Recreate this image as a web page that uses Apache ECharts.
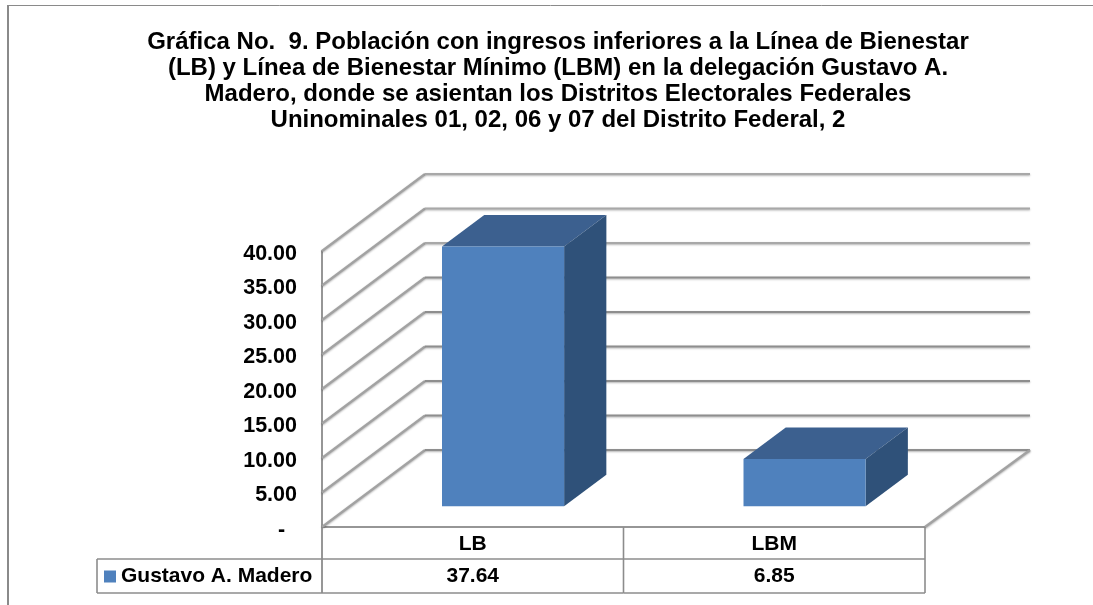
<!DOCTYPE html>
<html>
<head>
<meta charset="utf-8">
<style>
  html, body { margin: 0; padding: 0; background: #fff; }
  #chart { width: 1093px; height: 605px; }
</style>
</head>
<body>
<div id="chart"></div>
<script src="https://cdn.jsdelivr.net/npm/echarts@6/dist/echarts.min.js"></script>
<script>
var categories = ['LB', 'LBM']
var values = [37.64, 6.85]
var seriesName = 'Gustavo A. Madero'
var yTicks = [0, 5, 10, 15, 20, 25, 30, 35, 40]
var yTickLabels = ['-  ', '5.00', '10.00', '15.00', '20.00', '25.00', '30.00', '35.00', '40.00']
var titleLines = [
  'Gráfica No.  9. Población con ingresos inferiores a la Línea de Bienestar',
  '(LB) y Línea de Bienestar Mínimo (LBM) en la delegación Gustavo A.',
  'Madero, donde se asientan los Distritos Electorales Federales',
  'Uninominales 01, 02, 06 y 07 del Distrito Federal, 2'
]

var FONT = '"Liberation Sans", Arial, sans-serif'
var GREY = '#969696'
// fake 3d: how far the back wall sits from the front plane
var DEPTH_X = 103
var DEPTH_Y = 77
var BAR_FRONT = 0.27
var BAR_BACK = 0.68
var BAR_WIDTH = 0.405
var ROW_1 = 32
var ROW_2 = 66

function line (x1, y1, x2, y2, color, width, soft) {
  var style = { stroke: color, lineWidth: width }
  if (soft) {
    style.shadowColor = 'rgba(0,0,0,0.3)'
    style.shadowBlur = 2
    style.shadowOffsetY = 1
  }
  return {
    type: 'line',
    shape: { x1: x1, y1: y1, x2: x2, y2: y2 },
    style: style
  }
}

function poly (points, color) {
  return { type: 'polygon', shape: { points: points }, style: { fill: color } }
}

// gridline on the side wall + back wall, one per tick, with its tick label
function renderWall (params, api) {
  var c = params.coordSys
  var y = api.coord([0, api.value(0)])[1]
  var bx = c.x + DEPTH_X
  var by = y - DEPTH_Y
  var children = [
    line(c.x, y, bx, by, '#a2a2a2', 2.2, true),
    line(bx, by, c.x + c.width + DEPTH_X + 2, by, api.value(0) >= 30 ? '#a8a8a8' : '#8e8e8e', 2.2, true),
    {
      type: 'text',
      x: c.x - 25,
      y: y + 3,
      style: {
        text: yTickLabels[params.dataIndex],
        fill: '#000',
        font: 'bold 21.5px ' + FONT,
        textAlign: 'right',
        textVerticalAlign: 'middle'
      }
    }
  ]
  if (api.value(0) === 0) {
    children.push(line(c.x + c.width, y, c.x + c.width + DEPTH_X + 2, by, '#a2a2a2', 2.4, true))
  }
  return { type: 'group', children: children }
}

function renderBar (params, api) {
  var w = api.size([1, 0])[0] * BAR_WIDTH
  var base = api.coord([api.value(0), 0])
  var top = api.coord([api.value(0), api.value(1)])
  var fx = DEPTH_X * BAR_FRONT
  var fy = DEPTH_Y * BAR_FRONT
  var bx = DEPTH_X * (BAR_BACK - BAR_FRONT)
  var by = DEPTH_Y * (BAR_BACK - BAR_FRONT)
  var x0 = base[0] + fx - w / 2 + 2.5
  var x1 = x0 + w
  var y0 = base[1] - fy
  var y1 = top[1] - fy
  return {
    type: 'group',
    children: [
      poly([[x0, y1], [x1, y1], [x1 + bx, y1 - by], [x0 + bx, y1 - by]], '#3c608f'),
      poly([[x1, y0], [x1 + bx, y0 - by], [x1 + bx, y1 - by], [x1, y1]], '#2f5179'),
      poly([[x0, y0], [x1, y0], [x1, y1], [x0, y1]], '#4f81bd')
    ]
  }
}

// data table under the axis, one column per category
function renderTable (params, api) {
  var c = params.coordSys
  var idx = api.value(0)
  var band = api.size([1, 0])[0]
  var cx = api.coord([idx, 0])[0]
  var y0 = api.coord([idx, 0])[1]
  var right = cx + band / 2
  var children = [
    line(right, y0, right, y0 + ROW_2, '#8c8c8c', 1.6),
    line(cx - band / 2, y0 + ROW_1, right, y0 + ROW_1, '#8c8c8c', 1.6),
    line(cx - band / 2, y0 + ROW_2, right, y0 + ROW_2, '#8c8c8c', 1.6),
    {
      type: 'text',
      x: cx,
      y: y0 + 49,
      style: {
        text: api.value(1).toFixed(2),
        fill: '#000',
        font: 'bold 21px ' + FONT,
        textAlign: 'center',
        textVerticalAlign: 'middle'
      }
    }
  ]
  if (idx === 0) {
    // first column also closes the row-header cell
    children.push(line(c.x, y0, c.x, y0 + ROW_2, '#8c8c8c', 1.8))
    children.push(line(97, y0 + ROW_1, c.x, y0 + ROW_1, '#8c8c8c', 1.6))
    children.push(line(97, y0 + ROW_2, c.x, y0 + ROW_2, '#8c8c8c', 1.6))
    children.push(line(97, y0 + ROW_1, 97, y0 + ROW_2, '#8c8c8c', 1.6))
  }
  return { type: 'group', children: children }
}

var chart = echarts.init(document.getElementById('chart'))
chart.setOption({
  animation: false,
  backgroundColor: '#fff',
  title: {
    text: titleLines.join('\n'),
    left: 553,
    top: 24,
    textAlign: 'center',
    textStyle: {
      fontFamily: FONT,
      fontSize: 24,
      fontWeight: 'bold',
      lineHeight: 26,
      color: '#000'
    }
  },
  legend: {
    data: [seriesName],
    left: 104,
    top: 566,
    padding: 0,
    icon: 'rect',
    itemWidth: 12,
    itemHeight: 12,
    itemGap: 0,
    selectedMode: false,
    textStyle: {
      fontFamily: FONT,
      fontSize: 21,
      fontWeight: 'bold',
      color: '#000'
    }
  },
  grid: { left: 322, top: 251, width: 603, height: 276 },
  xAxis: {
    type: 'category',
    data: categories,
    axisTick: { show: false },
    axisLine: { lineStyle: { color: GREY, width: 2 } },
    axisLabel: {
      margin: 7,
      color: '#000',
      fontFamily: FONT,
      fontSize: 21,
      fontWeight: 'bold'
    }
  },
  yAxis: {
    type: 'value',
    min: 0,
    max: 40,
    interval: 5,
    splitLine: { show: false },
    axisTick: { show: false },
    axisLine: { show: true, lineStyle: { color: GREY, width: 2 } },
    axisLabel: { show: false }
  },
  graphic: [
    { type: 'line', shape: { x1: 8, y1: 5.5, x2: 1093, y2: 5.5 }, style: { stroke: '#8a8a8a', lineWidth: 1 } },
    { type: 'line', shape: { x1: 8, y1: 5, x2: 8, y2: 605 }, style: { stroke: '#8a8a8a', lineWidth: 2 } }
  ],
  series: [
    {
      type: 'custom',
      name: 'walls',
      silent: true,
      z: 1,
      renderItem: renderWall,
      encode: { y: 0 },
      data: yTicks.map(function (t) { return [t] })
    },
    {
      type: 'custom',
      name: seriesName,
      silent: true,
      z: 3,
      itemStyle: { color: '#4f81bd' },
      renderItem: renderBar,
      encode: { x: 0, y: 1 },
      data: values.map(function (v, i) { return [i, v] })
    },
    {
      type: 'custom',
      name: 'table',
      silent: true,
      z: 4,
      renderItem: renderTable,
      encode: { x: 0 },
      data: values.map(function (v, i) { return [i, v] })
    }
  ]
})
</script>
</body>
</html>
